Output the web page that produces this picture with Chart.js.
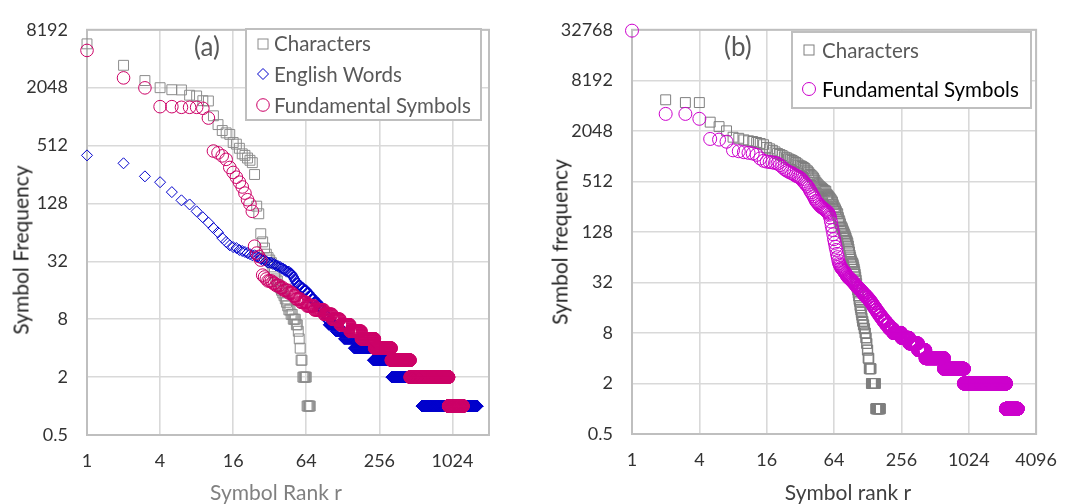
<!DOCTYPE html>
<html>
<head>
<meta charset="utf-8">
<script src="https://cdn.jsdelivr.net/npm/chart.js@4.4.1/dist/chart.umd.min.js"></script>
<style>
  body { margin: 0; background: #fff; font-family: Lato, "Open Sans", sans-serif; }
  #wrap { position: relative; width: 1072px; height: 504px; overflow: hidden; }
  .panel { position: absolute; top: 0; width: 536px; height: 504px; }
  .abs { position: absolute; white-space: nowrap; line-height: 1; }
  .rot { transform: translate(-50%, -50%) rotate(-90deg); }
  .ctr { transform: translate(-50%, -50%); }
  .legend { position: absolute; box-sizing: border-box; border: 2px solid #bfbfbf; background: #fff; }
  svg { position: absolute; overflow: visible; }
</style>
</head>
<body>
<div id="wrap">
  <div class="panel" style="left:0"><canvas id="chartA" width="536" height="504"></canvas></div>
  <div class="panel" style="left:536px"><canvas id="chartB" width="536" height="504"></canvas></div>

  <!-- panel (a) text -->
  <div class="abs" style="left:194px;top:33px;font-size:26px;color:#595959">(a)</div>
  <div class="legend" style="left:245px;top:28px;width:237px;height:93px"></div>
  <svg style="left:255px;top:36px" width="16" height="16"><rect x="3" y="3" width="10" height="10" fill="none" stroke="#8c8c8c"/></svg>
  <div class="abs" style="left:274px;top:33px;font-size:20.5px;color:#595959">Characters</div>
  <svg style="left:255px;top:66px" width="16" height="16"><path d="M2.5 8 L8 2.5 L13.5 8 L8 13.5 Z" fill="none" stroke="#0000cc"/></svg>
  <div class="abs" style="left:274px;top:64px;font-size:20.5px;color:#595959">English Words</div>
  <svg style="left:255px;top:97px" width="16" height="16"><circle cx="8" cy="8" r="6.3" fill="none" stroke="#cc0066"/></svg>
  <div class="abs" style="left:274px;top:95px;font-size:20.5px;color:#595959">Fundamental Symbols</div>
  <div class="abs rot" style="left:20px;top:250px;font-size:21px;color:#262626">Symbol Frequency</div>
  <div class="abs ctr" style="left:276px;top:491px;font-size:21px;color:#808080">Symbol Rank r</div>

  <!-- panel (b) text -->
  <div class="abs" style="left:724px;top:33px;font-size:26px;color:#595959">(b)</div>
  <div class="legend" style="left:791px;top:31px;width:241px;height:78px"></div>
  <svg style="left:801px;top:42px" width="16" height="16"><rect x="3" y="3" width="10" height="10" fill="none" stroke="#7f7f7f"/></svg>
  <div class="abs" style="left:822px;top:40px;font-size:20.5px;color:#595959">Characters</div>
  <svg style="left:801px;top:81px" width="16" height="16"><circle cx="8" cy="8" r="6.5" fill="none" stroke="#cc00cc"/></svg>
  <div class="abs" style="left:822px;top:79px;font-size:20.5px;color:#000">Fundamental Symbols</div>
  <div class="abs rot" style="left:559px;top:242px;font-size:21px;color:#262626">Symbol frequency</div>
  <div class="abs ctr" style="left:848px;top:491px;font-size:21px;color:#404040">Symbol rank r</div>
</div>

<script>
// Panel (a): frequency of each rank.
// "head" lists ranks 1, 2, 3 ... one by one; "runs" continue the ranks as [frequency, number of ranks].
const charsAHead = [5850, 3500, 2430, 2048, 1950, 1940, 1710, 1680, 1500, 1490,
  1045, 846, 734, 694, 669, 551, 530, 480, 420, 405,
  380, 360, 340, 256, 120, 100, 62, 51, 44, 38,
  35, 33, 31, 28, 24, 21, 20, 18, 17, 16,
  15, 14, 13, 12, 11, 10, 10, 9, 9, 8,
  8, 8, 7, 7, 6, 5, 4, 3, 3];
const charsARuns = [[2, 5], [1, 5]];

const wordsAHead = [405, 335, 245, 213, 168, 138, 125, 106, 92, 81,
  71, 64, 56, 51, 47, 45, 44, 42, 41, 40,
  39, 38, 37, 37, 36, 35, 34, 33, 33, 32];
const wordsARuns = [[31, 3], [30, 2], [29, 2], [28, 2], [27, 2], [26, 2], [25, 3], [24, 2], [23, 1], [22, 1],
  [21, 1], [20, 1], [19, 2], [18, 3], [17, 3], [16, 4], [15, 3], [14, 3], [13, 4], [12, 5],
  [11, 5], [10, 5], [9, 4], [8, 4], [7, 14], [6, 19], [5, 27], [4, 69], [3, 95], [2, 248], [1, 1081]];

const symbolsAHead = [5000, 2590, 2040, 1300, 1300, 1280, 1280, 1280, 1250, 990,
  449, 430, 400, 368, 303, 269, 240, 213, 190, 164,
  140, 126, 106, 46, 39, 36, 33, 23, 22, 21];
const symbolsARuns = [[20, 3], [19, 2], [18, 3], [17, 3], [16, 4], [15, 4], [14, 3], [13, 5], [12, 7], [11, 10],
  [10, 15], [9, 15], [8, 17], [7, 25], [6, 35], [5, 52], [4, 87], [3, 138], [2, 493], [1, 297]];

// Panel (b). Rank 1 of the characters lies above the axis and is not shown.
const charsBHead = [null, 4800, 4450, 4450, 2600, 2300, 2050, 1720, 1670, 1600,
  1560, 1530, 1490, 1450, 1400, 1300, 1250, 1200, 1150, 1100,
  1070, 1040, 1000, 980, 950, 930, 910, 880, 860, 830,
  800, 785, 770, 750, 730, 700, 680, 650, 620, 600,
  580, 560, 530, 500, 480, 465, 450, 440, 430, 420,
  410, 400, 395, 390, 360, 350, 340, 330, 320, 310,
  300, 290, 270, 255, 245, 235, 225, 215, 210, 190,
  178, 170, 160, 150, 145, 140, 133, 128, 122, 118,
  112, 108, 102, 98, 94, 87, 80, 74, 68, 64,
  60, 57, 55, 54, 52, 49, 46, 43, 40, 37,
  34, 31, 28, 26, 24, 22, 20, 19, 17, 16,
  15, 14, 13, 12, 11, 11, 10, 10, 9, 9,
  8, 8, 7, 7, 6, 6, 5, 5, 4, 4,
  4];
const charsBRuns = [[3, 6], [2, 13], [1, 16]];

const symbolsBHead = [32000, 3260, 3260, 2850, 1640, 1610, 1520, 1200, 1170, 1140,
  1120, 1100, 1060, 960, 900, 880, 870, 860, 850, 835,
  800, 760, 720, 690, 670, 650, 640, 620, 600, 590,
  575, 560, 540, 512, 490, 470, 450, 430, 400, 380,
  360, 340, 320, 300, 290, 280, 270, 260, 255, 250,
  245, 240, 235, 230, 225, 220, 215, 205, 190, 170,
  150, 135, 120, 105, 95, 85, 78, 70, 64, 58,
  54, 52, 50, 48, 47, 46, 45, 44, 43, 42,
  41, 40, 39, 38, 37, 37, 36, 36, 35, 35,
  34, 34, 33, 33, 32, 32, 31, 31, 30, 30,
  29, 29, 28, 28, 28, 27, 27, 27, 26, 26,
  26, 25, 25, 25, 24, 24, 24];
const symbolsBRuns = [[23, 4], [22, 4], [21, 4], [20, 4], [19, 4], [18, 4], [17, 4], [16, 5], [15, 5], [14, 6],
  [13, 7], [12, 8], [11, 10], [10, 12], [9, 17], [8, 40], [7, 45], [6, 60], [5, 59], [4, 195],
  [3, 312], [2, 1274], [1, 600]];

// axis ticks (powers of 4)
const xTicksA = [1, 4, 16, 64, 256, 1024, 2048];
const yTicksA = [0.5, 2, 8, 32, 128, 512, 2048, 8192];
const xTicksB = [1, 4, 16, 64, 256, 1024, 4096];
const yTicksB = [0.5, 2, 8, 32, 128, 512, 2048, 8192, 32768];

function rankPoints(head, runs) {
  const pts = [];
  let r = 1;
  head.forEach(f => { if (f !== null) pts.push({ x: r, y: f }); r++; });
  runs.forEach(([f, n]) => {
    for (let i = 0; i < n; i++) { pts.push({ x: r, y: f }); r++; }
  });
  return pts;
}

function series(data, style, color, radius, order) {
  return {
    data: data,
    pointStyle: style,
    pointRadius: radius,
    pointBorderColor: color,
    pointBackgroundColor: 'rgba(0,0,0,0)',
    pointBorderWidth: 1,
    showLine: false,
    clip: false,
    order: order
  };
}

// light frame round the plot area, like the spreadsheet original
const framePlugin = {
  id: 'frame',
  beforeDatasetsDraw(chart) {
    const a = chart.chartArea, ctx = chart.ctx;
    ctx.save();
    ctx.strokeStyle = '#bfbfbf';
    ctx.lineWidth = 2;
    ctx.strokeRect(a.left, a.top, a.right - a.left, a.bottom - a.top);
    ctx.restore();
  }
};

function makeChart(id, box, xTicks, yTicks, hiddenX, datasets) {
  const tickFont = { family: 'Lato', size: 18 };
  return new Chart(document.getElementById(id), {
    type: 'scatter',
    data: { datasets: datasets },
    options: {
      responsive: false,
      animation: false,
      events: [],
      layout: { padding: { left: 0, top: box.top, right: 536 - box.right, bottom: 0 } },
      plugins: { legend: { display: false }, tooltip: { enabled: false } },
      scales: {
        x: {
          type: 'logarithmic',
          min: xTicks[0],
          max: xTicks[xTicks.length - 1],
          afterBuildTicks: s => { s.ticks = xTicks.map(v => ({ value: v })); },
          afterFit: s => { s.height = 504 - box.bottom; },
          grid: { color: '#d9d9d9', lineWidth: 1.6, drawTicks: false },
          border: { display: false },
          ticks: {
            autoSkip: false, maxRotation: 0, padding: 15, color: '#333333', font: tickFont,
            callback: v => hiddenX.includes(v) ? '' : String(v)
          }
        },
        y: {
          type: 'logarithmic',
          min: yTicks[0],
          max: yTicks[yTicks.length - 1],
          afterBuildTicks: s => { s.ticks = yTicks.map(v => ({ value: v })); },
          afterFit: s => { s.width = box.left; },
          grid: { color: '#d9d9d9', lineWidth: 1.6, drawTicks: false },
          border: { display: false },
          ticks: {
            autoSkip: false, padding: 19, color: '#333333', font: tickFont,
            callback: v => String(v)
          }
        }
      }
    },
    plugins: [framePlugin]
  });
}

makeChart('chartA', { left: 87, right: 489, top: 22, bottom: 435 }, xTicksA, yTicksA, [2048], [
  series(rankPoints(charsAHead, charsARuns), 'rect', '#8c8c8c', 7, 3),
  series(rankPoints(wordsAHead, wordsARuns), 'rectRot', '#0000cc', 5.5, 2),
  series(rankPoints(symbolsAHead, symbolsARuns), 'circle', '#cc0066', 6.3, 1)
]);

makeChart('chartB', { left: 96, right: 503, top: 22, bottom: 434 }, xTicksB, yTicksB, [], [
  series(rankPoints(charsBHead, charsBRuns), 'rect', '#7f7f7f', 7, 2),
  series(rankPoints(symbolsBHead, symbolsBRuns), 'circle', '#cc00cc', 6.5, 1)
]);
</script>
</body>
</html>
